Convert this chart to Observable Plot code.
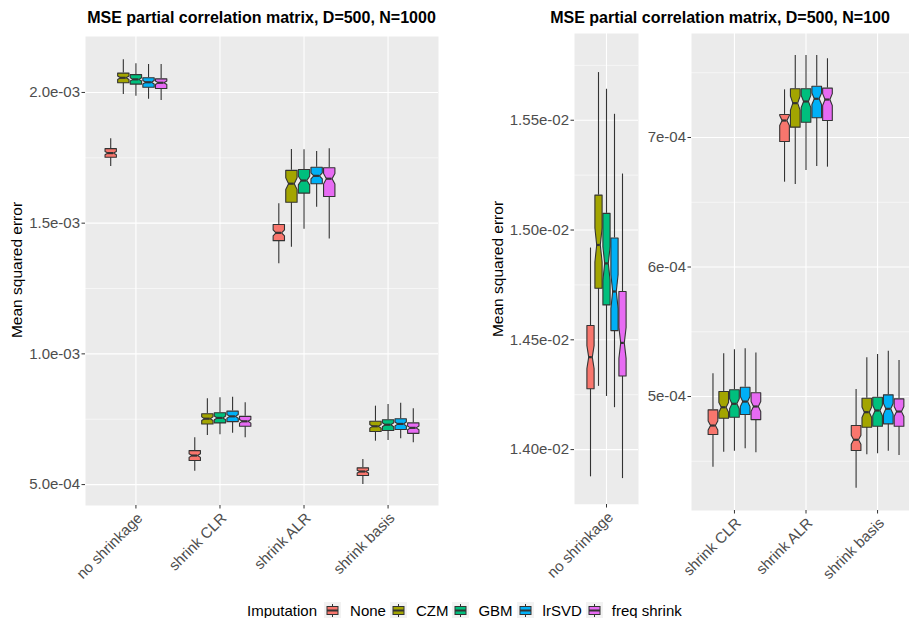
<!DOCTYPE html>
<html><head><meta charset="utf-8">
<script src="https://cdn.jsdelivr.net/npm/d3@7"></script>
<script src="https://cdn.jsdelivr.net/npm/@observablehq/plot@0.6"></script>
<style>
html,body{margin:0;padding:0;background:#fff;overflow:hidden;}
#root{position:relative;width:909px;height:618px;overflow:hidden;font-family:"Liberation Sans",Arial,Helvetica,sans-serif;}
.panel{position:absolute;top:0;}
.title{position:absolute;top:9px;font-weight:bold;font-size:16px;color:#000;white-space:nowrap;transform:translateX(-50%);}
.ylab{position:absolute;font-size:15.5px;color:#000;white-space:nowrap;transform:translate(-50%,-50%) rotate(-90deg);}
#legend{position:absolute;top:601px;left:247px;display:flex;align-items:center;font-size:15px;color:#000;white-space:nowrap;height:19px;}
#legend .key{width:17px;height:17px;margin:0 9px 0 4px;display:block;}
#legend .lab{margin-right:0px;}
#legend .ttl{margin-right:3px;}
</style></head>
<body><div id="root"></div>
<script>
// ---------- data ----------
const imputations = ["None", "CZM", "GBM", "lrSVD", "freq shrink"];
const colors = ["#F8766D", "#A3A500", "#00BF7D", "#00B0F6", "#E76BF3"];

// Panel A: D=500, N=1000
const catsA = ["no shrinkage", "shrink CLR", "shrink ALR", "shrink basis"];
const yminA = [[1.717e-3,1.992e-3,1.985e-3,1.974e-3,1.969e-3],[0.551e-3,0.688e-3,0.691e-3,0.696e-3,0.679e-3],[1.345e-3,1.408e-3,1.477e-3,1.561e-3,1.439e-3],[0.500e-3,0.666e-3,0.669e-3,0.675e-3,0.660e-3]];
const lowerA = [[1.752e-3,2.037e-3,2.032e-3,2.020e-3,2.015e-3],[0.592e-3,0.732e-3,0.736e-3,0.741e-3,0.723e-3],[1.433e-3,1.580e-3,1.615e-3,1.651e-3,1.602e-3],[0.535e-3,0.703e-3,0.707e-3,0.711e-3,0.696e-3]];
const middleA = [[1.768e-3,2.056e-3,2.050e-3,2.039e-3,2.037e-3],[0.611e-3,0.752e-3,0.755e-3,0.761e-3,0.742e-3],[1.463e-3,1.651e-3,1.663e-3,1.681e-3,1.670e-3],[0.550e-3,0.723e-3,0.729e-3,0.732e-3,0.717e-3]];
const upperA = [[1.785e-3,2.074e-3,2.068e-3,2.056e-3,2.052e-3],[0.630e-3,0.771e-3,0.775e-3,0.781e-3,0.761e-3],[1.495e-3,1.702e-3,1.705e-3,1.714e-3,1.712e-3],[0.564e-3,0.742e-3,0.748e-3,0.752e-3,0.736e-3]];
const ymaxA = [[1.823e-3,2.125e-3,2.110e-3,2.107e-3,2.107e-3],[0.679e-3,0.828e-3,0.832e-3,0.834e-3,0.813e-3],[1.574e-3,1.782e-3,1.781e-3,1.774e-3,1.785e-3],[0.596e-3,0.800e-3,0.806e-3,0.811e-3,0.790e-3]];
const ticksA = [5e-4, 1e-3, 1.5e-3, 2e-3];
const tickLabelsA = ["5.0e-04", "1.0e-03", "1.5e-03", "2.0e-03"];
const minorsA = [7.5e-4, 1.25e-3, 1.75e-3];

// Panel B: D=500, N=100, no shrinkage
const catsB = ["no shrinkage"];
const yminB = [[1.3876e-2,1.4288e-2,1.4242e-2,1.4191e-2,1.3868e-2]];
const lowerB = [[1.4277e-2,1.4735e-2,1.4659e-2,1.4542e-2,1.4335e-2]];
const middleB = [[1.4421e-2,1.4932e-2,1.4848e-2,1.4720e-2,1.4486e-2]];
const upperB = [[1.4565e-2,1.5159e-2,1.5076e-2,1.4964e-2,1.4720e-2]];
const ymaxB = [[1.4918e-2,1.5717e-2,1.5641e-2,1.5527e-2,1.5255e-2]];
const ticksB = [1.40e-2, 1.45e-2, 1.50e-2, 1.55e-2];
const tickLabelsB = ["1.40e-02", "1.45e-02", "1.50e-02", "1.55e-02"];
const minorsB = [1.375e-2, 1.425e-2, 1.475e-2, 1.525e-2, 1.575e-2];

// Panel C: D=500, N=100, shrinkage
const catsC = ["shrink CLR", "shrink ALR", "shrink basis"];
const yminC = [[4.454e-4,4.570e-4,4.578e-4,4.596e-4,4.565e-4],[6.655e-4,6.637e-4,6.745e-4,6.776e-4,6.771e-4],[4.292e-4,4.550e-4,4.558e-4,4.578e-4,4.544e-4]];
const lowerC = [[4.707e-4,4.832e-4,4.840e-4,4.861e-4,4.822e-4],[6.969e-4,7.080e-4,7.118e-4,7.152e-4,7.131e-4],[4.583e-4,4.763e-4,4.771e-4,4.789e-4,4.771e-4]];
const middleC = [[4.776e-4,4.917e-4,4.944e-4,4.961e-4,4.923e-4],[7.131e-4,7.265e-4,7.278e-4,7.299e-4,7.293e-4],[4.666e-4,4.879e-4,4.892e-4,4.905e-4,4.884e-4]];
const upperC = [[4.897e-4,5.039e-4,5.052e-4,5.072e-4,5.029e-4],[7.178e-4,7.376e-4,7.376e-4,7.396e-4,7.381e-4],[4.776e-4,4.987e-4,4.995e-4,5.013e-4,4.982e-4]];
const ymaxC = [[5.175e-4,5.330e-4,5.361e-4,5.368e-4,5.337e-4],[7.368e-4,7.633e-4,7.633e-4,7.633e-4,7.608e-4],[5.054e-4,5.299e-4,5.324e-4,5.350e-4,5.278e-4]];
const ticksC = [5e-4, 6e-4, 7e-4];
const tickLabelsC = ["5e-04", "6e-04", "7e-04"];
const minorsC = [4.5e-4, 5.5e-4, 6.5e-4, 7.5e-4];

const nObs = 75; // replicates per box (for notch width)

// ---------- drawing ----------
const FONT = '"Liberation Sans", Arial, Helvetica, sans-serif';
const slot = 0.75 / imputations.length;
const hw = slot * 0.9 / 2;
const ind = hw * 0.5;

function panel(o) {
  const boxes = [];
  o.cats.forEach((c, ci) => imputations.forEach((imp, ii) => {
    boxes.push({imp, cx: ci + 1 + (ii - 2) * slot,
      ymin: o.ymin[ci][ii], lower: o.lower[ci][ii], middle: o.middle[ci][ii],
      upper: o.upper[ci][ii], ymax: o.ymax[ci][ii]});
  }));
  const poly = boxes.flatMap((b, k) => {
    const d = 1.58 * (b.upper - b.lower) / Math.sqrt(nObs);
    const nu = b.middle + d, nl = b.middle - d;
    const x0 = b.cx - hw, x1 = b.cx + hw;
    const pts = [[x0, b.upper], [x0, nu], [x0 + ind, b.middle], [x0, nl], [x0, b.lower],
                 [x1, b.lower], [x1, nl], [x1 - ind, b.middle], [x1, nu], [x1, b.upper]];
    return pts.map(([x, y]) => ({k, imp: b.imp, x, y}));
  });
  const labMap = new Map(o.ticks.map((t, i) => [t, o.tickLabels[i]]));
  const catPos = o.cats.map((c, i) => i + 1);
  return Plot.plot({
    width: o.width, height: o.height,
    marginLeft: o.ml, marginRight: o.mr, marginTop: o.mt, marginBottom: o.mb,
    x: {domain: [0.4, o.cats.length + 0.6], axis: null},
    y: {domain: o.yDomain, axis: null},
    color: {domain: imputations, range: colors},
    style: {fontFamily: FONT, background: "transparent", overflow: "visible"},
    marks: [
      Plot.frame({fill: "#EBEBEB", stroke: "none"}),
      Plot.ruleY(o.minors, {stroke: "#FFFFFF", strokeWidth: 0.55}),
      Plot.ruleY(o.ticks, {stroke: "#FFFFFF", strokeWidth: 1.1}),
      Plot.ruleX(catPos, {stroke: "#FFFFFF", strokeWidth: 1.1}),
      Plot.ruleX(boxes, {x: "cx", y1: "upper", y2: "ymax", stroke: "#333333", strokeWidth: 1.1}),
      Plot.ruleX(boxes, {x: "cx", y1: "lower", y2: "ymin", stroke: "#333333", strokeWidth: 1.1}),
      Plot.line(poly, {x: "x", y: "y", z: "k", fill: "imp", stroke: "#333333", strokeWidth: 1.1, curve: "linear-closed"}),
      Plot.ruleY(boxes, {y: "middle", x1: d => d.cx - hw + ind, x2: d => d.cx + hw - ind, stroke: "#333333", strokeWidth: 2.2}),
      Plot.axisY({ticks: o.ticks, tickFormat: d => labMap.get(d), tickSize: 3.5, tickPadding: 2, fontSize: 15, fill: "#4D4D4D", stroke: "#333333", label: null}),
      Plot.axisX({ticks: catPos, tickSize: 3.5, tickFormat: () => "", stroke: "#333333", label: null}),
      Plot.text(catPos, {x: d => d, text: d => o.cats[d - 1], frameAnchor: "bottom", rotate: -45,
        textAnchor: "end", lineAnchor: "top", dx: 0, dy: 6, fontSize: 15, fill: "#4D4D4D"})
    ]
  });
}

const root = document.getElementById("root");
function place(el, left) { el.classList.add("panel"); el.style.left = left + "px"; root.appendChild(el); }

place(panel({cats: catsA, ymin: yminA, lower: lowerA, middle: middleA, upper: upperA, ymax: ymaxA,
  ticks: ticksA, tickLabels: tickLabelsA, minors: minorsA, yDomain: [0.420e-3, 2.214e-3],
  width: 445, height: 590, ml: 85, mr: 7, mt: 36, mb: 85}), 0);
place(panel({cats: catsB, ymin: yminB, lower: lowerB, middle: middleB, upper: upperB, ymax: ymaxB,
  ticks: ticksB, tickLabels: tickLabelsB, minors: minorsB, yDomain: [1.375e-2, 1.5895e-2],
  width: 175, height: 590, ml: 104, mr: 7, mt: 33, mb: 86}), 470);
place(panel({cats: catsC, ymin: yminC, lower: lowerC, middle: middleC, upper: upperC, ymax: ymaxC,
  ticks: ticksC, tickLabels: tickLabelsC, minors: minorsC, yDomain: [4.12e-4, 7.803e-4],
  width: 280, height: 590, ml: 46, mr: 5, mt: 33, mb: 80}), 645);

function addDiv(cls, text, left, top) {
  const d = document.createElement("div"); d.className = cls; d.textContent = text;
  d.style.left = left + "px"; if (top !== undefined) d.style.top = top + "px"; root.appendChild(d); return d;
}
addDiv("title", "MSE partial correlation matrix, D=500, N=1000", 261.5);
addDiv("title", "MSE partial correlation matrix, D=500, N=100", 720);
addDiv("ylab", "Mean squared error", 17, 270);
addDiv("ylab", "Mean squared error", 498, 269);

// legend
const leg = document.createElement("div"); leg.id = "legend";
const t = document.createElement("span"); t.className = "ttl"; t.textContent = "Imputation"; leg.appendChild(t);
const NS = "http://www.w3.org/2000/svg";
imputations.forEach((imp, i) => {
  const s = document.createElementNS(NS, "svg"); s.setAttribute("class", "key");
  s.setAttribute("width", 17); s.setAttribute("height", 17);
  s.innerHTML = `<rect width="17" height="17" fill="#F2F2F2"/>
    <line x1="8.5" x2="8.5" y1="2" y2="15" stroke="#333333" stroke-width="1"/>
    <rect x="3" y="4.5" width="11" height="8" fill="${colors[i]}" stroke="#333333" stroke-width="1"/>
    <line x1="3" x2="14" y1="8.5" y2="8.5" stroke="#333333" stroke-width="2"/>`;
  leg.appendChild(s);
  const l = document.createElement("span"); l.className = "lab"; l.textContent = imp; leg.appendChild(l);
});
root.appendChild(leg);
</script>
</body></html>
